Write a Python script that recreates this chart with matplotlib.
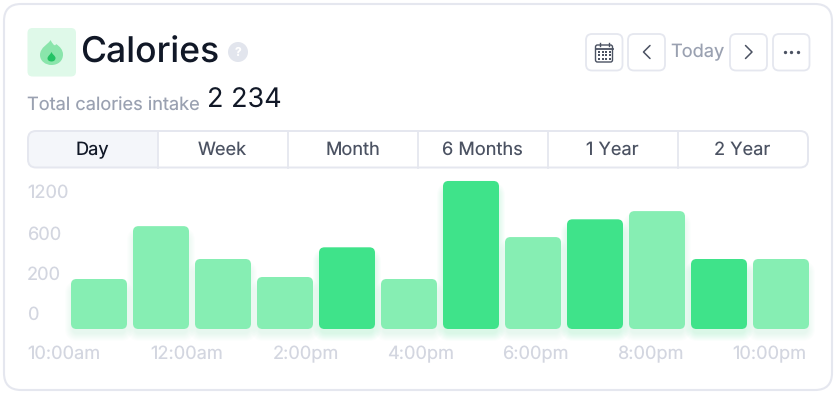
import numpy as np
import matplotlib
matplotlib.use("Agg")
import matplotlib.pyplot as plt
from matplotlib.patches import FancyBboxPatch, Circle, PathPatch
from matplotlib.path import Path

plt.rcParams['font.family'] = ['Inter', 'DejaVu Sans']
plt.rcParams['text.hinting'] = 'no_hinting'
plt.rcParams['text.hinting_factor'] = 1

W, H = 836, 395

# data
hours = list(range(12))
calories = [290, 920, 490, 310, 610, 290, 1454, 760, 1020, 1140, 490, 490]
highlight = [0, 0, 0, 0, 1, 0, 1, 0, 1, 0, 1, 0]
ytick_vals = [0, 200, 600, 1200]
ytick_labs = ['0', '200', '600', '1200']
xlabels = ['10:00am', '12:00am', '2:00pm', '4:00pm', '6:00pm', '8:00pm', '10:00pm']
tabs = ['Day', 'Week', 'Month', '6 Months', '1 Year', '2 Year']

# the value axis is not linear in the picture
scale_v = [0, 200, 600, 1200, 1600]
scale_p = [0, 41, 81, 122, 163]

LIGHT = '#86eeb3'
DARK = '#3fe38a'
BORDER = '#e5e7ef'
GREY = '#9aa1b1'
FAINT = '#d3d6e0'
INK = '#111827'
SLATE = '#4b5262'


def px(v):
    return v * 0.72


def rbox(a, x0, y0, x1, y1, r, **kw):
    p = FancyBboxPatch((x0, y0), x1 - x0, y1 - y0,
                       boxstyle=f'round,pad=0,rounding_size={r}', **kw)
    a.add_patch(p)
    return p


fig = plt.figure(figsize=(W / 100, H / 100), dpi=100, facecolor='white')

# pixel canvas for the card
bg = fig.add_axes([0, 0, 1, 1])
bg.set_xlim(0, W)
bg.set_ylim(H, 0)
bg.axis('off')

# card
rbox(bg, 4, 4, 832, 390, 17, fc='white', ec=BORDER, lw=1.5)

# header icon
rbox(bg, 27.5, 28, 76, 76.5, 5, fc='#dff9e9', ec='none')
outer = Path([(50.5, 40), (49, 44), (40, 47), (40, 55), (40, 61), (45.5, 65), (51.5, 65),
              (58, 65), (63, 61), (63, 54.5), (63, 50), (60, 46.5), (56, 44), (55.5, 46), (54, 46.5), (50.5, 40)],
             [Path.MOVETO] + [Path.CURVE4] * 15)
bg.add_patch(PathPatch(outer, fc='#8ae5ab', ec='none'))
inner = Path([(51.5, 52), (50.5, 54.5), (47.5, 56), (47.5, 58.5), (47.5, 60.5), (49.5, 61.5), (51.5, 61.5),
              (53.5, 61.5), (55.5, 60.5), (55.5, 58), (55.5, 56), (52.5, 54.5), (51.5, 52)],
             [Path.MOVETO] + [Path.CURVE4] * 12)
bg.add_patch(PathPatch(inner, fc='#22c263', ec='none'))

bg.text(80.5, 53.5, 'Calories', fontsize=px(35.5), color=INK, va='center', ha='left', fontweight='medium')
bg.add_patch(Circle((238, 52), 10, fc='#e2e5ed', ec='none'))
bg.text(238, 52.5, '?', fontsize=px(12), color='white', va='center', ha='center', fontweight='bold')
bg.text(27, 106, 'Total calories intake', fontsize=px(18.2), color=GREY, va='center', ha='left')
bg.text(207, 101, '2 234', fontsize=px(27), color=INK, va='center', ha='left')

# header buttons
for x0, x1 in [(586, 622.5), (628, 665), (730, 767), (773, 809.5)]:
    rbox(bg, x0, 34, x1, 70.5, 6, fc='white', ec=BORDER, lw=1.3)
bg.text(697, 52.5, 'Today', fontsize=px(18.2), color=GREY, va='center', ha='center')
bg.plot([650, 643.5, 650], [45.5, 52, 58.5], color=SLATE, lw=1.1, solid_capstyle='round', solid_joinstyle='round')
bg.plot([745.5, 752, 745.5], [45.5, 52, 58.5], color=SLATE, lw=1.1, solid_capstyle='round', solid_joinstyle='round')
bg.plot([784.5, 791, 797.5], [52, 52, 52], 'o', color=SLATE, ms=2.4, mew=0)

# calendar icon
rbox(bg, 595.5, 45, 612.5, 62, 2, fc='none', ec=SLATE, lw=1.0)
bg.plot([595.5, 612.5], [48.5, 48.5], color=SLATE, lw=1.3)
bg.plot([599.5, 599.5], [43, 45.5], color=SLATE, lw=1.0)
bg.plot([608.5, 608.5], [43, 45.5], color=SLATE, lw=1.0)
for yy in (52, 55, 58.5):
    for xx in (598.5, 602.5, 606, 609.5):
        bg.plot([xx], [yy], 's', color=SLATE, ms=1.6, mew=0)

# tabs
rbox(bg, 28, 131, 808, 167.5, 8, fc='white', ec='none', zorder=2)
day = rbox(bg, 28, 131, 190, 167.5, 8, fc='#f4f6fa', ec='none', zorder=2.1)
day.set_clip_path(plt.Rectangle((28, 131), 130, 36.5, transform=bg.transData))
rbox(bg, 28, 131, 808, 167.5, 8, fc='none', ec=BORDER, lw=1.4, zorder=2.2)
edges = [28, 158, 288, 418, 548, 678, 808]
for i, t in enumerate(tabs):
    if i > 0:
        bg.plot([edges[i], edges[i]], [131, 167.5], color=BORDER, lw=1.3, zorder=2.3)
    bg.text((edges[i] + edges[i + 1]) / 2 - 0.5, 150, t, fontsize=px(18.2),
            color=INK if i == 0 else SLATE, va='center', ha='center', zorder=3)

# chart, bars go through the data scale
ax = fig.add_axes([71 / W, (H - 329) / H, 738 / W, scale_p[-1] / H])
ax.set_yscale('function', functions=(lambda v: np.interp(v, scale_v, scale_p),
                                     lambda p: np.interp(p, scale_p, scale_v)))
ax.set_xlim(-0.4516, 11.4516)
ax.set_ylim(0, 1600)
ax.axis('off')
ax.patch.set_alpha(0)
bars = ax.bar(hours, calories, width=0.9032, color='none')

to_px = bg.transData.inverted()
for b, hl in zip(bars, highlight):
    (x0, y0), (x1, y1) = to_px.transform(ax.transData.transform(
        [(b.get_x(), 0), (b.get_x() + b.get_width(), b.get_height())]))
    col = DARK if hl else LIGHT
    # soft shadow, mostly under the bar
    for g in range(8, 0, -1):
        rbox(bg, x0 - g + 2, y1 + 10 - g, x1 + g - 2, y0 + 4 + g, 5 + g,
             fc=col, ec='none', alpha=0.022, zorder=1)
    rbox(bg, x0, y1, x1, y0, 5.5, fc=col, ec='none', zorder=1.5)

# the labels sit above their value on the bars
for v, lab in zip(ytick_vals, ytick_labs):
    ax.annotate(lab, xy=(0, v), xycoords=ax.get_yaxis_transform(), xytext=(-44, 13.5),
                textcoords='offset pixels', fontsize=px(18.2), color=FAINT, ha='left', va='center')

xlab_pos = [63.5, 186.5, 305.5, 420.5, 535.5, 650.5, 769.5]
for x, lab in zip(xlab_pos, xlabels):
    bg.text(x, 354, lab, fontsize=px(18.2), color=FAINT, ha='center', va='center')

fig.savefig('out.png', dpi=100)
